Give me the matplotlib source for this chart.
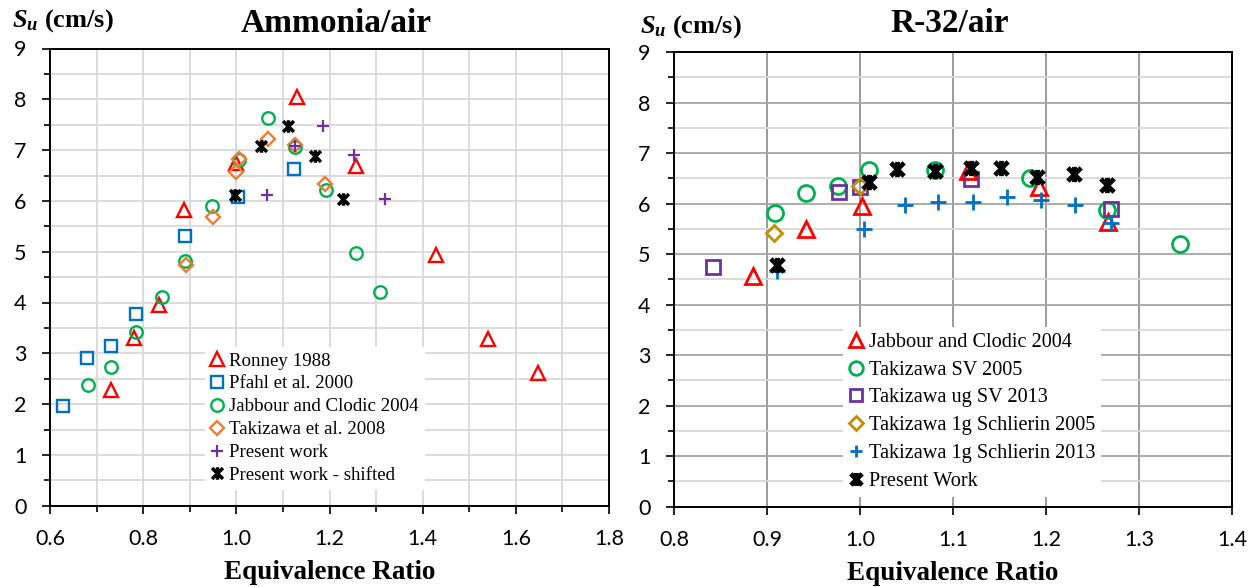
import matplotlib
matplotlib.use("Agg")
import matplotlib.pyplot as plt
from matplotlib.path import Path
from matplotlib.ticker import MultipleLocator, FormatStrFormatter

plt.rcParams['mathtext.fontset'] = 'custom'
plt.rcParams['mathtext.it'] = 'Liberation Serif:italic:bold'
plt.rcParams['mathtext.rm'] = 'Liberation Serif:bold'
plt.rcParams['mathtext.bf'] = 'Liberation Serif:bold'

SERIF = 'Liberation Serif'
TICKFONT = 'Lato'

# ---------------- Ammonia/air data ----------------
ronney_phi = [0.73, 0.78, 0.835, 0.888, 1.0, 1.13, 1.257, 1.428, 1.54, 1.647]
ronney_su = [2.28, 3.31, 3.95, 5.83, 6.75, 8.05, 6.68, 4.93, 3.28, 2.62]

pfahl_phi = [0.627, 0.679, 0.731, 0.784, 0.890, 1.004, 1.124]
pfahl_su = [1.96, 2.90, 3.15, 3.77, 5.30, 6.08, 6.63]

jabbour_nh3_phi = [0.682, 0.730, 0.784, 0.840, 0.890, 0.948, 1.006, 1.067, 1.126, 1.192, 1.256, 1.308]
jabbour_nh3_su = [2.38, 2.74, 3.41, 4.11, 4.82, 5.89, 6.80, 7.64, 7.06, 6.21, 4.98, 4.21]

takizawa08_phi = [0.893, 0.950, 1.0, 1.006, 1.067, 1.126, 1.190]
takizawa08_su = [4.73, 5.68, 6.57, 6.83, 7.21, 7.11, 6.33]

present_nh3_phi = [1.065, 1.127, 1.187, 1.252, 1.319]
present_nh3_su = [6.12, 7.09, 7.47, 6.90, 6.03]

shifted_nh3_phi = [0.998, 1.053, 1.111, 1.169, 1.229]
shifted_nh3_su = [6.12, 7.08, 7.47, 6.88, 6.03]

# ---------------- R-32/air data ----------------
jabbour_r32_phi = [0.885, 0.942, 1.002, 1.116, 1.192, 1.267]
jabbour_r32_su = [4.56, 5.49, 5.95, 6.64, 6.32, 5.64]

tkz_sv05_phi = [0.908, 0.942, 0.976, 1.009, 1.081, 1.183, 1.266, 1.344]
tkz_sv05_su = [5.82, 6.21, 6.34, 6.67, 6.66, 6.50, 5.87, 5.20]

tkz_ugsv13_phi = [0.842, 0.977, 1.0, 1.119, 1.270]
tkz_ugsv13_su = [4.74, 6.22, 6.32, 6.49, 5.89]

tkz_sch05_phi = [0.907, 1.0]
tkz_sch05_su = [5.41, 6.35]

tkz_sch13_phi = [0.910, 1.004, 1.048, 1.084, 1.121, 1.158, 1.195, 1.231, 1.270]
tkz_sch13_su = [4.66, 5.50, 5.97, 6.04, 6.04, 6.13, 6.07, 5.97, 5.61]

present_r32_phi = [0.910, 1.009, 1.040, 1.081, 1.119, 1.151, 1.190, 1.230, 1.265]
present_r32_su = [4.79, 6.43, 6.69, 6.65, 6.71, 6.71, 6.53, 6.58, 6.36]

# star marker: an X crossed by a vertical bar
STAR = Path([(-1, -1), (1, 1), (-1, 1), (1, -1), (0, -1.15), (0, 1.15)],
            [Path.MOVETO, Path.LINETO, Path.MOVETO, Path.LINETO, Path.MOVETO, Path.LINETO])

RED = '#FF0000'
BLUE = '#0070C0'
GREEN = '#00B050'
ORANGE = '#ED7D31'
PURPLE = '#7030A0'
GOLD = '#BF9000'

W, H = 1257, 587
fig = plt.figure(figsize=(W / 100, H / 100), dpi=100)


def px_axes(x0, x1, ytop, ybot):
    return fig.add_axes([x0 / W, 1 - ybot / H, (x1 - x0) / W, (ybot - ytop) / H])


axL = px_axes(50, 609, 48.5, 505.7)
axR = px_axes(674.3, 1232, 52, 506.7)


def style_axes(ax):
    for s in ax.spines.values():
        s.set_color('black')
        s.set_linewidth(1.4)
    ax.tick_params(which='both', direction='out', color='black', width=1.2)
    ax.tick_params(which='major', length=6, labelsize=15.5, pad=11)
    ax.tick_params(which='minor', length=4)
    for lab in ax.get_xticklabels() + ax.get_yticklabels():
        lab.set_fontfamily(TICKFONT)
    ax.set_axisbelow(True)
    ax.set_ylim(0, 9)
    ax.yaxis.set_major_locator(MultipleLocator(1))
    ax.yaxis.set_minor_locator(MultipleLocator(0.5))
    ax.yaxis.set_major_formatter(FormatStrFormatter('%d'))


# ---------------- left panel ----------------
ax = axL
ax.set_xlim(0.6, 1.8)
ax.xaxis.set_major_locator(MultipleLocator(0.2))
ax.xaxis.set_minor_locator(MultipleLocator(0.1))
ax.xaxis.set_major_formatter(FormatStrFormatter('%.1f'))
style_axes(ax)
ax.grid(which='both', color='#D9D9D9', linewidth=1.3)

mk = dict(linestyle='none', markerfacecolor='none')
ax.plot(ronney_phi, ronney_su, marker='^', ms=9.5, mew=1.7, color=RED, label='Ronney 1988', **mk)
ax.plot(pfahl_phi, pfahl_su, marker='s', ms=8.8, mew=1.7, color=BLUE, label='Pfahl et al. 2000', **mk)
ax.plot(jabbour_nh3_phi, jabbour_nh3_su, marker='o', ms=9.0, mew=1.7, color=GREEN,
        label='Jabbour and Clodic 2004', **mk)
ax.plot(takizawa08_phi, takizawa08_su, marker='D', ms=7.4, mew=1.7, color=ORANGE,
        label='Takizawa et al. 2008', **mk)
ax.plot(present_nh3_phi, present_nh3_su, marker='+', ms=8.0, mew=1.6, color=PURPLE,
        label='Present work', linestyle='none')
ax.plot(shifted_nh3_phi, shifted_nh3_su, marker=STAR, ms=9.0, mew=2.5, color='black',
        label='Present work - shifted', **mk)

legL = ax.legend(loc='lower left', bbox_to_anchor=(0.277, 0.035), frameon=True, fancybox=False,
                 framealpha=1, edgecolor='none', facecolor='white',
                 prop={'family': SERIF, 'size': 13.6}, handlelength=0.7, handletextpad=0.3,
                 labelspacing=0.3, borderpad=0.3, borderaxespad=0)
legL.set_zorder(5)

ax.set_xlabel('Equivalence Ratio', fontfamily=SERIF, fontweight='bold', fontsize=19.5, labelpad=8)

# ---------------- right panel ----------------
ax = axR
ax.set_xlim(0.8, 1.4)
ax.xaxis.set_major_locator(MultipleLocator(0.1))
ax.xaxis.set_major_formatter(FormatStrFormatter('%.1f'))
style_axes(ax)
ax.grid(which='major', axis='x', color='#808080', linewidth=1.1)
ax.grid(which='major', axis='y', color='#A6A6A6', linewidth=1.3)
ax.grid(which='minor', axis='y', color='#D9D9D9', linewidth=1.3)

ax.plot(jabbour_r32_phi, jabbour_r32_su, marker='^', ms=12, mew=2.0, color=RED,
        label='Jabbour and Clodic 2004', **mk)
ax.plot(tkz_sv05_phi, tkz_sv05_su, marker='o', ms=11.5, mew=2.0, color=GREEN,
        label='Takizawa SV 2005', **mk)
ax.plot(tkz_ugsv13_phi, tkz_ugsv13_su, marker='s', ms=10, mew=2.0, color=PURPLE,
        label='Takizawa ug SV 2013', **mk)
ax.plot(tkz_sch05_phi, tkz_sch05_su, marker='D', ms=8.4, mew=2.0, color=GOLD,
        label='Takizawa 1g Schlierin 2005', **mk)
ax.plot(tkz_sch13_phi, tkz_sch13_su, marker='+', ms=11, mew=2.0, color=BLUE,
        label='Takizawa 1g Schlierin 2013', linestyle='none')
ax.plot(present_r32_phi, present_r32_su, marker=STAR, ms=11, mew=3.4, color='black',
        label='Present Work', **mk)

legR = ax.legend(loc='lower left', bbox_to_anchor=(0.303, 0.022), frameon=True, fancybox=False,
                 framealpha=1, edgecolor='none', facecolor='white',
                 prop={'family': SERIF, 'size': 14.6}, handlelength=0.7, handletextpad=0.25,
                 labelspacing=0.42, borderpad=0.3, borderaxespad=0, markerscale=0.85)
legR.set_zorder(5)

ax.set_xlabel('Equivalence Ratio', fontfamily=SERIF, fontweight='bold', fontsize=19.5, labelpad=8)

# ---------------- titles and axis units ----------------
fig.text(336 / W, 1 - 24 / H, 'Ammonia/air', ha='center', va='center',
         fontfamily=SERIF, fontweight='bold', fontsize=24)
fig.text(950 / W, 1 - 24 / H, 'R-32/air', ha='center', va='center',
         fontfamily=SERIF, fontweight='bold', fontsize=24)
fig.text(12 / W, 1 - 27 / H, r'$S_u$ (cm/s)', ha='left', va='baseline',
         fontfamily=SERIF, fontweight='bold', fontsize=19)
fig.text(640 / W, 1 - 33 / H, r'$S_u$ (cm/s)', ha='left', va='baseline',
         fontfamily=SERIF, fontweight='bold', fontsize=19)

fig.savefig('out.png', dpi=100)
